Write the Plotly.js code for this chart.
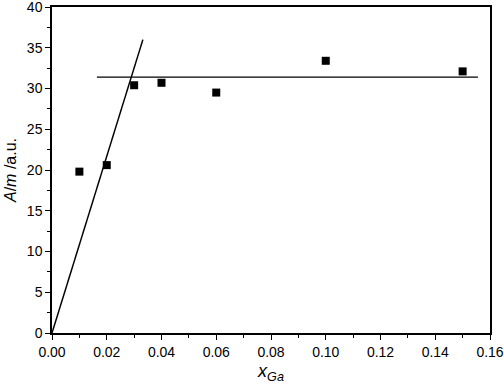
<!DOCTYPE html>
<html>
<head>
<meta charset="utf-8">
<script src="https://cdn.plot.ly/plotly-3.0.1.min.js"></script>
<style>
  html, body { margin: 0; padding: 0; background: #fff; }
  #chart { width: 504px; height: 384px; }
</style>
</head>
<body>
<div id="chart"></div>
<script>
// valores
const xGa    = [0.01, 0.02, 0.03, 0.04, 0.06, 0.10, 0.15];
const aM     = [19.8, 20.6, 30.4, 30.7, 29.5, 33.4, 32.1];
const rectaX = [0, 0.0332];
const rectaY = [0, 36];
const mesetaX = [0.0164, 0.1556];
const mesetaY = [31.4, 31.4];

const fuente = 'Liberation Sans, Arial, sans-serif';

const trazaPuntos = {
  x: xGa, y: aM, type: 'scatter', mode: 'markers',
  marker: { symbol: 'square', size: 8, color: '#000' },
  showlegend: false, cliponaxis: false
};
const trazaRecta = {
  x: rectaX, y: rectaY, type: 'scatter', mode: 'lines',
  line: { color: '#000', width: 1.5 }, showlegend: false
};
const trazaMeseta = {
  x: mesetaX, y: mesetaY, type: 'scatter', mode: 'lines',
  line: { color: '#000', width: 1.2 }, showlegend: false
};

const ejeComun = {
  showline: true, linecolor: '#000', linewidth: 1.5, mirror: true,
  ticks: 'outside', ticklen: 5, tickwidth: 1.2, tickcolor: '#000',
  showgrid: false, zeroline: false, ticklabeloverflow: 'allow',
  tickfont: { family: fuente, size: 14, color: '#000' }
};

const layout = {
  margin: { l: 52, r: 14, t: 7, b: 51 },
  xaxis: Object.assign({}, ejeComun, {
    range: [0, 0.16], dtick: 0.02, tickformat: '.2f',
    minor: { dtick: 0.01, ticks: 'outside', ticklen: 3, tickcolor: '#000' },
    title: { text: '<i>x<sub>Ga</sub></i>', font: { family: fuente, size: 18, color: '#000' }, standoff: 8 }
  }),
  yaxis: Object.assign({}, ejeComun, {
    range: [0, 40], dtick: 5, tick0: 0,
    minor: { dtick: 2.5, ticks: 'outside', ticklen: 3, tickcolor: '#000' },
    title: { text: '<i>A</i>/<i>m</i> /a.u.', font: { family: fuente, size: 16, color: '#000' }, standoff: 6 }
  }),
  plot_bgcolor: '#fff', paper_bgcolor: '#fff'
};

Plotly.newPlot('chart', [trazaRecta, trazaMeseta, trazaPuntos], layout, { displayModeBar: false });
</script>
</body>
</html>
